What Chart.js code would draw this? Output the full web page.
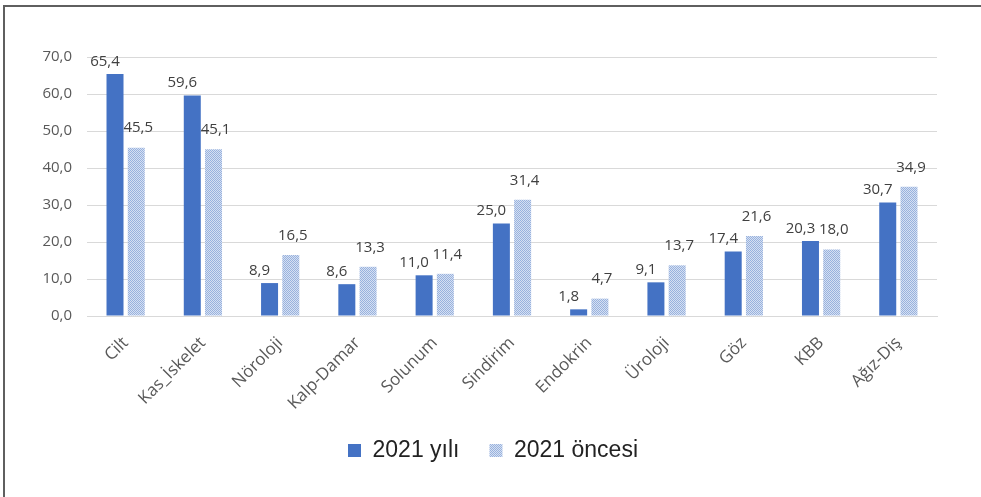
<!DOCTYPE html>
<html>
<head>
<meta charset="utf-8">
<script src="https://cdn.jsdelivr.net/npm/chart.js@4.4.1/dist/chart.umd.min.js"></script>
<style>
  html, body { margin: 0; padding: 0; background: #fff; }
  #frame {
    position: absolute; left: 3px; top: 5px; width: 976px; height: 490px;
    border-top: 2px solid #5f5f5f; border-left: 2px solid #5f5f5f;
  }
  #wrap { position: relative; width: 976px; height: 490px; }
</style>
</head>
<body>
<div id="frame"><div id="wrap"><canvas id="chart"></canvas></div></div>
<script>
  const categories = ["Cilt", "Kas_İskelet", "Nöroloji", "Kalp-Damar", "Solunum", "Sindirim",
    "Endokrin", "Üroloji", "Göz", "KBB", "Ağız-Diş"];
  const values2021 = [65.4, 59.6, 8.9, 8.6, 11.0, 25.0, 1.8, 9.1, 17.4, 20.3, 30.7];
  const valuesBefore = [45.5, 45.1, 16.5, 13.3, 11.4, 31.4, 4.7, 13.7, 21.6, 18.0, 34.9];
  const seriesNames = ["2021 yılı", "2021 öncesi"];

  // light dotted fill for the second series
  function makePattern() {
    const c = document.createElement("canvas");
    c.width = 2; c.height = 2;
    const g = c.getContext("2d");
    g.fillStyle = "#d6e0f2"; g.fillRect(0, 0, 2, 2);
    g.fillStyle = "#98b2de"; g.fillRect(0, 0, 1, 1); g.fillRect(1, 1, 1, 1);
    return g.createPattern(c, "repeat");
  }
  const lightFill = makePattern();

  const fmt = (v) => v.toFixed(1).replace(".", ",");

  // value labels above the bars
  const barLabels = {
    id: "barLabels",
    afterDatasetsDraw(chart) {
      const ctx = chart.ctx;
      ctx.save();
      ctx.font = "15px 'Open Sans'";
      ctx.fillStyle = "#404040";
      ctx.textAlign = "center";
      ctx.textBaseline = "bottom";
      chart.data.datasets.forEach((ds, i) => {
        chart.getDatasetMeta(i).data.forEach((bar, j) => {
          ctx.fillText(fmt(ds.data[j]), bar.x + (i === 0 ? -10 : 2), bar.y - (i === 0 ? 5 : 12));
        });
      });
      ctx.restore();
    }
  };

  new Chart(document.getElementById("chart"), {
    type: "bar",
    data: {
      labels: categories,
      datasets: [
        { label: seriesNames[0], data: values2021, backgroundColor: "#4472c4" },
        { label: seriesNames[1], data: valuesBefore, backgroundColor: lightFill }
      ]
    },
    options: {
      responsive: true,
      maintainAspectRatio: false,
      animation: false,
      categoryPercentage: 0.55,
      barPercentage: 0.8,
      layout: { padding: { top: 50, right: 0, bottom: 25, left: 0 } },
      plugins: {
        tooltip: { enabled: false },
        legend: {
          position: "bottom",
          labels: {
            font: { family: "'Liberation Sans', Arial", size: 23 },
            color: "#222",
            boxWidth: 13,
            boxHeight: 13,
            padding: 30
          }
        }
      },
      scales: {
        x: {
          grid: { display: false },
          border: { color: "#d9d9d9" },
          ticks: {
            font: { family: "'Open Sans'", size: 17 },
            color: "#595959",
            minRotation: 45,
            maxRotation: 45,
            padding: 9
          },
          afterFit(scale) { scale.height = 93; }
        },
        y: {
          min: 0,
          max: 70,
          grid: { color: "#d9d9d9", drawTicks: false },
          border: { display: false },
          ticks: {
            stepSize: 10,
            font: { family: "'Open Sans'", size: 15 },
            color: "#595959",
            padding: 15,
            callback: (v) => fmt(v)
          },
          afterFit(scale) { scale.width = 82; }
        },
        // empty right-hand axis, only reserves the white margin
        yRight: {
          position: "right",
          min: 0,
          max: 70,
          grid: { display: false },
          border: { display: false },
          ticks: { display: false },
          afterFit(scale) { scale.width = 44; }
        }
      }
    },
    plugins: [barLabels]
  });
</script>
</body>
</html>
